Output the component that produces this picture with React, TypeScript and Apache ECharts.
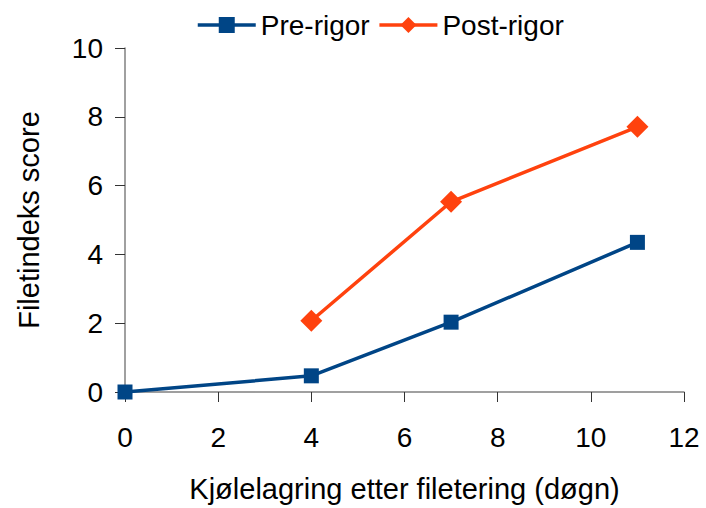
import React, { useEffect, useRef } from "react";
import * as echarts from "echarts";

const preRigor: [number, number][] = [
  [0, 0],
  [4, 0.47],
  [7, 2.03],
  [11, 4.35],
];
const postRigor: [number, number][] = [
  [4, 2.07],
  [7, 5.53],
  [11, 7.71],
];
const seriesNames = ["Pre-rigor", "Post-rigor"];
const xTitle = "Kjølelagring etter filetering (døgn)";
const yTitle = "Filetindeks score";

export default function App() {
  const ref = useRef<HTMLDivElement>(null);
  useEffect(() => {
    if (!ref.current) return;
    const chart = echarts.init(ref.current, undefined, { renderer: "svg" });
    const font = "Liberation Sans, Arial, sans-serif";
    chart.setOption({
      animation: false,
      backgroundColor: "#fff",
      textStyle: { fontFamily: font },
      legend: {
        top: 6,
        left: 191,
        itemWidth: 58,
        itemHeight: 20,
        itemGap: 8,
        lineStyle: { width: 3.5 },
        textStyle: { fontSize: 28, color: "#000", fontFamily: font },
        data: [seriesNames[0], seriesNames[1]],
      },
      grid: { left: 125, right: 22, top: 48, bottom: 115 },
      xAxis: {
        type: "value",
        min: 0,
        max: 12,
        interval: 2,
        name: xTitle,
        nameLocation: "middle",
        nameGap: 82,
        nameTextStyle: { fontSize: 29, color: "#000", fontFamily: font },
        axisLine: { show: true, lineStyle: { color: "#808080", width: 1.5 } },
        axisTick: { show: true, length: 10, lineStyle: { color: "#333" } },
        axisLabel: { fontSize: 28, color: "#000", margin: 31, fontFamily: font },
        splitLine: { show: false },
      },
      yAxis: {
        type: "value",
        min: 0,
        max: 10,
        interval: 2,
        name: yTitle,
        nameLocation: "middle",
        nameGap: 82,
        nameRotate: 90,
        nameTextStyle: { fontSize: 29, color: "#000", fontFamily: font },
        axisLine: { show: true, lineStyle: { color: "#808080", width: 1.5 } },
        axisTick: { show: true, length: 10, lineStyle: { color: "#333" } },
        axisLabel: { fontSize: 28, color: "#000", margin: 22, fontFamily: font },
        splitLine: { show: false },
      },
      series: [
        {
          name: seriesNames[0],
          type: "line",
          data: preRigor,
          symbol: "rect",
          symbolSize: 15,
          lineStyle: { color: "#004586", width: 3.5 },
          itemStyle: { color: "#004586" },
        },
        {
          name: seriesNames[1],
          type: "line",
          data: postRigor,
          symbol: "diamond",
          symbolSize: 22,
          lineStyle: { color: "#ff420e", width: 3.5 },
          itemStyle: { color: "#ff420e" },
        },
      ],
    });
    return () => chart.dispose();
  }, []);
  return <div ref={ref} style={{ width: 706, height: 508, position: "absolute", left: 0, top: 0 }} />;
}
